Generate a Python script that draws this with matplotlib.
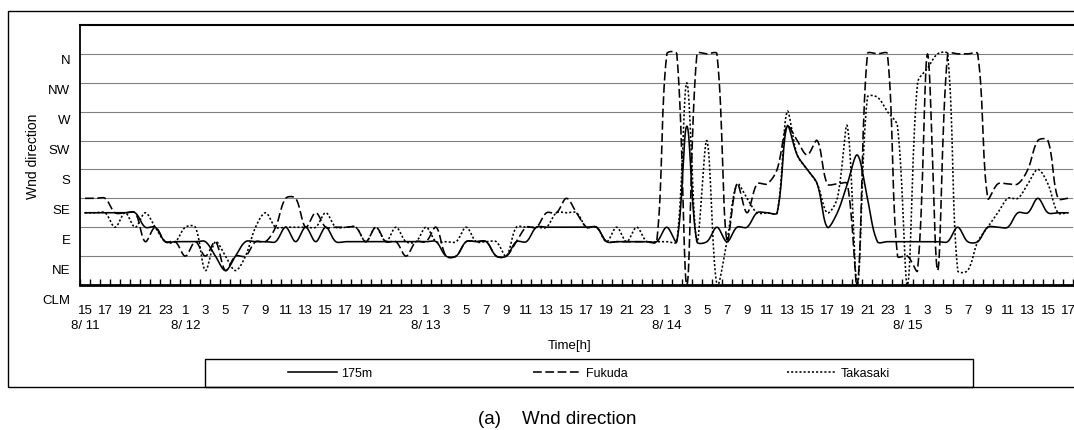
import numpy as np
import matplotlib
matplotlib.use("Agg")
import matplotlib.pyplot as plt
from matplotlib.patches import Rectangle
from matplotlib.transforms import ScaledTranslation

plt.rcParams["font.family"] = ["Liberation Sans", "DejaVu Sans"]

# hourly wind direction, 8/11 15h .. 8/15 17h (0 = calm, 1 = NE ... 8 = N)
DIRS = ["CLM", "NE", "E", "SE", "S", "SW", "W", "NW", "N"]
HOUR_LABELS = ["15", "17", "19", "21", "23", "1", "3", "5", "7", "9", "11", "13",
               "15", "17", "19", "21", "23", "1", "3", "5", "7", "9", "11", "13",
               "15", "17", "19", "21", "23", "1", "3", "5", "7", "9", "11", "13",
               "15", "17", "19", "21", "23", "1", "3", "5", "7", "9", "11", "13",
               "15", "17"]
DATE_LABELS = {"8/ 11": 0, "8/ 12": 10, "8/ 13": 34, "8/ 14": 58, "8/ 15": 82}

S175 = [
    2.5, 2.5, 2.5, 2.5, 2.5, 2.5, 2.0, 2.0, 1.5, 1.5,   # 0-9
    1.5, 1.5, 1.5, 1.0, 0.5, 1.0, 1.5, 1.5, 1.5, 1.5,   # 10-19
    2.0, 1.5, 2.0, 1.5, 2.0, 1.5, 1.5, 1.5, 1.5, 1.5,   # 20-29
    1.5, 1.5, 1.5, 1.5, 1.5, 1.5, 1.0, 1.0, 1.5, 1.5,   # 30-39
    1.5, 1.0, 1.0, 1.5, 1.5, 2.0, 2.0, 2.0, 2.0, 2.0,   # 40-49
    2.0, 2.0, 1.5, 1.5, 1.5, 1.5, 1.5, 1.5, 2.0, 1.5,   # 50-59
    5.5, 1.5, 1.5, 2.0, 1.5, 2.0, 2.0, 2.5, 2.5, 2.5,   # 60-69
    5.5, 4.5, 4.0, 3.5, 2.0, 2.5, 3.5, 4.5, 3.0, 1.5,   # 70-79
    1.5, 1.5, 1.5, 1.5, 1.5, 1.5, 1.5, 2.0, 1.5, 1.5,   # 80-89
    2.0, 2.0, 2.0, 2.5, 2.5, 3.0, 2.5, 2.5, 2.5,        # 90-98
]
FUKUDA = [
    3.0, 3.0, 3.0, 2.5, 2.5, 2.5, 1.5, 2.0, 1.5, 1.5,
    1.0, 1.5, 1.0, 1.5, 0.5, 1.0, 1.0, 1.5, 1.5, 2.0,
    3.0, 3.0, 2.0, 2.5, 2.0, 2.0, 2.0, 2.0, 1.5, 2.0,
    1.5, 1.5, 1.0, 1.5, 1.5, 2.0, 1.0, 1.0, 1.5, 1.5,
    1.5, 1.0, 1.0, 1.5, 2.0, 2.0, 2.5, 2.5, 3.0, 2.5,
    2.0, 2.0, 1.5, 1.5, 1.5, 1.5, 1.5, 1.5, 8.0, 8.0,
    0.0, 8.0, 8.0, 8.0, 1.5, 3.5, 2.5, 3.5, 3.5, 4.0,
    5.5, 5.0, 4.5, 5.0, 3.5, 3.5, 3.5, 0.0, 8.0, 8.0,
    8.0, 1.0, 1.0, 0.5, 8.0, 0.5, 8.0, 8.0, 8.0, 8.0,
    3.0, 3.5, 3.5, 3.5, 4.0, 5.0, 5.0, 3.0, 3.0,
]
TAKASAKI = [
    2.5, 2.5, 2.5, 2.0, 2.5, 2.0, 2.5, 2.0, 1.5, 1.5,
    2.0, 2.0, 0.5, 1.5, 1.0, 0.5, 1.0, 2.0, 2.5, 2.0,
    2.0, 2.0, 2.0, 2.0, 2.5, 2.0, 2.0, 2.0, 1.5, 2.0,
    1.5, 2.0, 1.5, 1.5, 2.0, 1.5, 1.5, 1.5, 2.0, 1.5,
    1.5, 1.5, 1.0, 2.0, 2.0, 2.0, 2.0, 2.5, 2.5, 2.5,
    2.0, 2.0, 1.5, 2.0, 1.5, 2.0, 1.5, 1.5, 1.5, 1.5,
    7.0, 1.5, 5.0, 0.0, 1.5, 3.5, 3.0, 2.5, 2.5, 2.5,
    6.0, 4.5, 4.0, 3.5, 2.5, 3.0, 5.5, 0.0, 6.5, 6.5,
    6.0, 5.5, 0.0, 7.0, 7.5, 8.0, 8.0, 0.5, 0.5, 1.5,
    2.0, 2.5, 3.0, 3.0, 3.5, 4.0, 3.5, 2.5, 2.5,
]

W, H = 1074, 431
PX_X, PX_Y = 10.03, 28.9   # screen pixels per hour / per direction step


def smooth(vals, n=16):
    """Excel-like smoothed line: Bezier segments, control arms scaled by screen chord length."""
    p = np.column_stack([np.arange(len(vals)) * PX_X, np.asarray(vals, float) * PX_Y])
    ext = np.vstack([p[0], p, p[-1]])
    t = np.linspace(0, 1, n, endpoint=False)[:, None]
    out = []
    for k in range(len(p) - 1):
        a0, a1, a2, a3 = ext[k], ext[k + 1], ext[k + 2], ext[k + 3]
        d01, d12, d23 = (np.hypot(*(a1 - a0)), np.hypot(*(a2 - a1)), np.hypot(*(a3 - a2)))
        c1 = a1 + (a2 - a0) * (d12 / max(d01 + d12, 1e-9)) / 3
        c2 = a2 - (a3 - a1) * (d12 / max(d12 + d23, 1e-9)) / 3
        out.append((1 - t) ** 3 * a1 + 3 * (1 - t) ** 2 * t * c1 + 3 * (1 - t) * t ** 2 * c2 + t ** 3 * a2)
    out.append(p[-1:])
    out = np.vstack(out)
    return out[:, 0] / PX_X, out[:, 1] / PX_Y


fig = plt.figure(figsize=(W / 100, H / 100), dpi=100)
ax = fig.add_axes([80 / W, (H - 286) / H, 993 / W, 260 / H])

styles = [
    (S175, "175m", dict(ls="-")),
    (FUKUDA, "Fukuda", dict(dashes=(5.5, 2.2))),
    (TAKASAKI, "Takasaki", dict(dashes=(1.3, 1.3))),
]
for vals, lab, st in styles:
    sx, sy = smooth(vals)
    ax.plot(sx, sy, color="black", lw=1.15, label=lab, **st)

ax.set_xlim(-0.5, len(S175) - 0.5)
ax.set_ylim(0, 9)

# horizontal grid at every direction
ax.set_yticks(range(len(DIRS)))
ax.set_yticklabels(DIRS, fontsize=9.5)
ax.yaxis.grid(True, color="#808080", lw=0.8)
ax.set_axisbelow(True)
ax.tick_params(axis="y", length=0, pad=7)
for k, tl in enumerate(ax.get_yticklabels()):
    off = (3 + (8 - k) * 0.8) / 72
    tl.set_transform(tl.get_transform() + ScaledTranslation(0, -off, fig.dpi_scale_trans))

# category axis: labels every 2 h at centres, ticks at category edges
pos = list(range(0, len(S175), 2))
labels = []
for p_, h in zip(pos, HOUR_LABELS):
    d = [k for k, v in DATE_LABELS.items() if v == p_]
    labels.append(h + ("\n" + d[0] if d else ""))
ax.set_xticks(pos)
ax.set_xticklabels(labels, fontsize=9.5, linespacing=1.25)
ax.set_xticks(np.arange(-0.5, len(S175), 1.0), minor=True)
ax.tick_params(axis="x", which="major", length=0, pad=14)
ax.tick_params(axis="x", which="minor", direction="in", length=4, width=1, color="black")

for s in ("left", "bottom", "top"):
    ax.spines[s].set_color("black")
ax.spines["left"].set_linewidth(1.3)
ax.spines["bottom"].set_linewidth(2.0)
ax.spines["top"].set_linewidth(1.5)
ax.spines["right"].set_visible(False)

ax.set_ylabel("Wnd direction", fontsize=10)
ax.yaxis.set_label_coords(-40 / 993, 0.5)
ax.set_xlabel("Time[h]", fontsize=9.5, va="center")
ax.xaxis.set_label_coords((570 - 80) / 993, -(346 - 286) / 260)

# outer chart frame and legend box
fig.patches.append(Rectangle((8 / W, (H - 388) / H), 1.1, 376 / H, transform=fig.transFigure,
                             fill=False, ec="black", lw=1.0))
fig.patches.append(Rectangle((205 / W, (H - 388) / H), 768 / W, 28 / H, transform=fig.transFigure,
                             fill=False, ec="black", lw=1.0))
fig.legend(loc="center", bbox_to_anchor=(589 / W, (H - 374) / H), ncol=3, frameon=False,
           fontsize=9, handlelength=3.9, handletextpad=0.35, columnspacing=12.8)

fig.text(478 / W, (H - 420) / H, "(a)    Wnd direction", fontsize=13.5, ha="left", va="center")

fig.savefig("out.png", dpi=100)
